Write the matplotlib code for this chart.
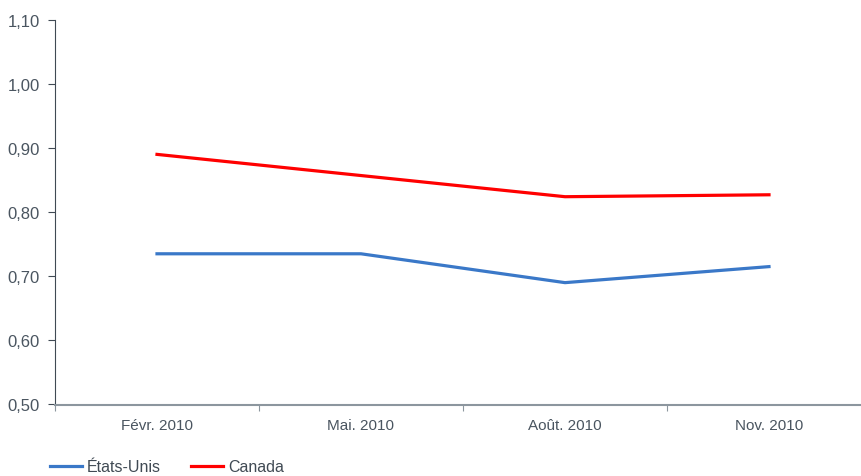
import matplotlib.pyplot as plt

plt.rcParams['font.family'] = ['Liberation Sans', 'DejaVu Sans']

periods = ["Févr. 2010", "Mai. 2010", "Août. 2010", "Nov. 2010"]
etats_unis = [0.735, 0.735, 0.690, 0.715]
canada = [0.890, 0.857, 0.824, 0.827]

text_col = "#4a5560"

fig = plt.figure(figsize=(8.62, 4.77), dpi=100)
ax = fig.add_axes([55 / 862, 1 - 405.5 / 477, 816 / 862, 384.8 / 477])

x = range(len(periods))
ax.plot(x, etats_unis, color="#3a78c8", lw=2.3, label="États-Unis")
ax.plot(x, canada, color="#ff0000", lw=2.3, label="Canada")

ax.set_xlim(-0.5, len(periods) - 0.5)
ax.set_ylim(0.5, 1.1)
ax.set_yticks([0.5, 0.6, 0.7, 0.8, 0.9, 1.0, 1.1])
ax.set_yticklabels([f"{v:.2f}".replace(".", ",") for v in ax.get_yticks()],
                   fontsize=12, color=text_col)

# category boundaries get the ticks, labels sit between them
ax.set_xticks([i - 0.5 for i in range(len(periods) + 1)])
ax.set_xticklabels([])
ax.set_xticks(list(x), minor=True)
ax.set_xticklabels(periods, minor=True, fontsize=11, color=text_col)
ax.tick_params(axis="x", which="minor", length=0, pad=10)
ax.tick_params(axis="x", which="major", length=4, color="#8c969e")
ax.tick_params(axis="y", length=5, color="#404a54", pad=6)

for s in ["top", "right"]:
    ax.spines[s].set_visible(False)
ax.spines["left"].set_color("#404a54")
ax.spines["bottom"].set_color("#8c969e")
ax.spines["bottom"].set_linewidth(1.5)

leg = fig.legend(loc="center left", bbox_to_anchor=(50 / 862, 9 / 477), ncol=2,
                 frameon=False, fontsize=11.5, handlelength=2.0, handletextpad=0.3,
                 columnspacing=1.9, borderpad=0, borderaxespad=0)
for t in leg.get_texts():
    t.set_color("#404a54")

fig.savefig("out.png", dpi=100)
